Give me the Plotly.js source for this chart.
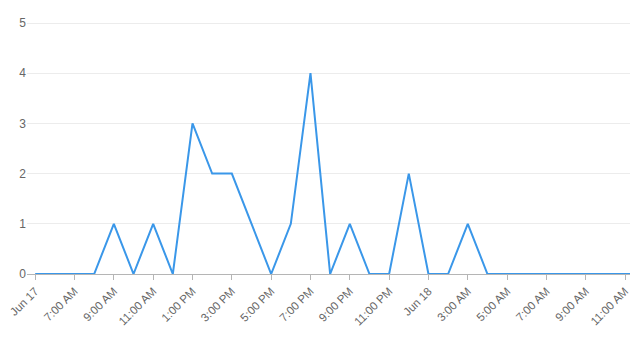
<!DOCTYPE html>
<html>
<head>
<meta charset="utf-8">
<script src="https://cdn.plot.ly/plotly-3.0.1.min.js"></script>
<style>html,body{margin:0;padding:0;background:#fff;}#chart{width:630px;height:339px;}</style>
</head>
<body>
<div id="chart"></div>
<script>
// Hourly timestamps (Jun 17 05:00 → Jun 18 12:00)
var times = [
  "2023-06-17 05:00","2023-06-17 06:00","2023-06-17 07:00","2023-06-17 08:00",
  "2023-06-17 09:00","2023-06-17 10:00","2023-06-17 11:00","2023-06-17 12:00",
  "2023-06-17 13:00","2023-06-17 14:00","2023-06-17 15:00","2023-06-17 16:00",
  "2023-06-17 17:00","2023-06-17 18:00","2023-06-17 19:00","2023-06-17 20:00",
  "2023-06-17 21:00","2023-06-17 22:00","2023-06-17 23:00","2023-06-18 00:00",
  "2023-06-18 01:00","2023-06-18 02:00","2023-06-18 03:00","2023-06-18 04:00",
  "2023-06-18 05:00","2023-06-18 06:00","2023-06-18 07:00","2023-06-18 08:00",
  "2023-06-18 09:00","2023-06-18 10:00","2023-06-18 11:00","2023-06-18 12:00"
];
var counts = [0,0,0,0,1,0,1,0,3,2,2,1,0,1,4,0,1,0,0,2,0,0,1,0,0,0,0,0,0,0,0,0];

var tickVals = [
  "2023-06-17 05:00","2023-06-17 07:00","2023-06-17 09:00","2023-06-17 11:00",
  "2023-06-17 13:00","2023-06-17 15:00","2023-06-17 17:00","2023-06-17 19:00",
  "2023-06-17 21:00","2023-06-17 23:00","2023-06-18 01:00","2023-06-18 03:00",
  "2023-06-18 05:00","2023-06-18 07:00","2023-06-18 09:00","2023-06-18 11:00"
];
var tickText = ["Jun 17","7:00 AM","9:00 AM","11:00 AM","1:00 PM","3:00 PM","5:00 PM",
  "7:00 PM","9:00 PM","11:00 PM","Jun 18","3:00 AM","5:00 AM","7:00 AM","9:00 AM","11:00 AM"];
var yTicks = [0,1,2,3,4,5];

Plotly.newPlot("chart", [{
  x: times, y: counts, type: "scatter", mode: "lines",
  line: {color: "#3a97e9", width: 2},
  hoverinfo: "x+y"
}], {
  width: 630, height: 339,
  margin: {l: 27, r: 0, t: 20, b: 65},
  paper_bgcolor: "#fff", plot_bgcolor: "#fff",
  showlegend: false,
  font: {family: "Liberation Sans, Arial, sans-serif", size: 12, color: "#666"},
  xaxis: {
    type: "date",
    range: ["2023-06-17 04:35", "2023-06-18 11:15"],
    tickmode: "array", tickvals: tickVals, ticktext: tickText,
    tickangle: -45,
    ticklabeloverflow: "allow",
    showgrid: false, zeroline: false,
    showline: true, linecolor: "#b5b5b5", linewidth: 1,
    ticks: "outside", ticklen: 5, tickcolor: "#b5b5b5",
    tickfont: {size: 11.5, color: "#666"}
  },
  yaxis: {
    range: [0, 5.06],
    tickmode: "array", tickvals: yTicks,
    showgrid: true, gridcolor: "#ececec", gridwidth: 1,
    zeroline: false, showline: false, ticks: "",
    tickfont: {size: 12, color: "#666"}
  }
}, {displayModeBar: false, staticPlot: true});
</script>
</body>
</html>
